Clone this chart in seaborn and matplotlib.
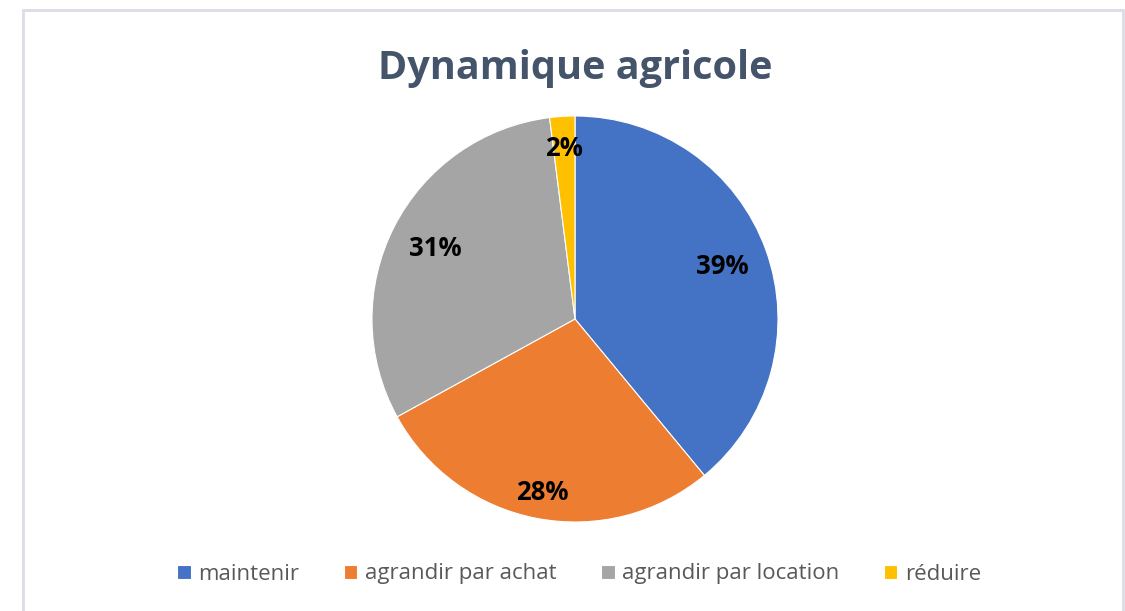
import numpy as np
import matplotlib
matplotlib.use("Agg")
import matplotlib.pyplot as plt
from matplotlib.patches import Rectangle
import seaborn as sns

# data
categories = ["maintenir", "agrandir par achat", "agrandir par location", "réduire"]
shares = [39, 28, 31, 2]
slice_colors = ["#4472C4", "#ED7D31", "#A5A5A5", "#FFC000"]
label_dist = [0.77, 0.87, 0.77, 0.84]

sns.set_theme(style="white")
plt.rcParams["font.family"] = ["Open Sans", "DejaVu Sans"]

fig = plt.figure(figsize=(11.25, 6.11), dpi=100)
fig.patch.set_facecolor("white")

# light chart frame (open at the bottom, as in the screenshot)
fig.patches.append(Rectangle((23 / 1125, -0.1), 1100 / 1125, 1.1 - 10 / 611,
                             transform=fig.transFigure, fill=False,
                             edgecolor="#DCDCE8", linewidth=2))

ax = fig.add_axes([(575 - 203) / 1125, (611 - 522) / 611, 406 / 1125, 406 / 611])
wedges, _ = ax.pie(shares, colors=slice_colors, startangle=90, counterclock=False,
                   wedgeprops=dict(edgecolor="white", linewidth=0.8))
ax.set_xlim(-1, 1)
ax.set_ylim(-1, 1)
ax.set_aspect("equal")

total = sum(shares)
for w, v, d in zip(wedges, shares, label_dist):
    ang = np.deg2rad((w.theta1 + w.theta2) / 2)
    ax.text(d * np.cos(ang), d * np.sin(ang), f"{round(100 * v / total)}%",
            ha="center", va="center", fontsize=18.5, fontweight="bold", color="black")

fig.text(575 / 1125, 1 - 68 / 611, "Dynamique agricole", ha="center", va="center",
         fontsize=28.5, fontweight="bold", color="#44546A")

leg = fig.legend(wedges, categories, loc="center", bbox_to_anchor=(0.515, 1 - 574 / 611),
                 ncol=4, frameon=False, fontsize=16, handlelength=0.6, handleheight=0.6,
                 handletextpad=0.35, columnspacing=2.0, labelcolor="#595959")

fig.savefig("out.png", dpi=100)
